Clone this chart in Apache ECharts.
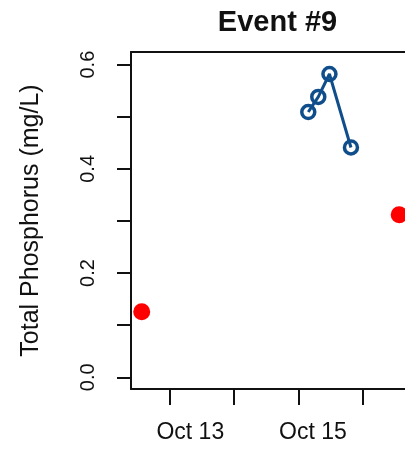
<!DOCTYPE html>
<html>
<head>
<meta charset="utf-8">
<script src="https://cdn.jsdelivr.net/npm/echarts@6/dist/echarts.min.js"></script>
<style>html,body{margin:0;padding:0;background:#fff}#c{width:405px;height:451px}</style>
</head>
<body>
<div id="c"></div>
<script>
// x values are days of October (fractional), y values are Total Phosphorus in mg/L
const redX = [12.573, 16.56];
const redY = [0.126, 0.312];
const blueX = [15.152, 15.307, 15.480, 15.813];
const blueY = [0.509, 0.538, 0.582, 0.441];
const xTickDays = [13, 14, 15, 16];
const xLabelDays = [13, 15];
const xLabelText = ['Oct 13', 'Oct 15'];
const yTicks = [0, 0.1, 0.2, 0.3, 0.4, 0.5, 0.6];
const yLabels = [0, 0.2, 0.4, 0.6];
const titleText = 'Event #9';
const yTitle = 'Total Phosphorus (mg/L)';

const FONT = '"Liberation Sans", Arial, sans-serif';
const INK = '#111';
const X_MIN = 12.407, X_MAX = 16.65;

const chart = echarts.init(document.getElementById('c'), null, {renderer: 'canvas'});
chart.setOption({
  animation: false,
  backgroundColor: '#fff',
  title: {
    text: titleText,
    left: 272.5,
    top: 3,
    textAlign: 'center',
    textStyle: {fontFamily: FONT, fontWeight: 'bold', fontSize: 29, color: INK}
  },
  grid: {show: false, left: 131, top: 52, right: 0, bottom: 62},
  xAxis: [{
    type: 'value', min: X_MIN, max: X_MAX, position: 'bottom',
    splitLine: {show: false},
    axisLine: {show: true, onZero: false, lineStyle: {color: INK, width: 2}},
    axisTick: {show: true, customValues: xTickDays, length: 16, inside: false,
      lineStyle: {color: INK, width: 2}},
    axisLabel: {
      customValues: xLabelDays, margin: 32, fontFamily: FONT, fontSize: 23, color: INK,
      formatter: function (v) {
        const i = xLabelDays.indexOf(Math.round(v));
        return i === 0 ? '{a|' + xLabelText[0] + '}' : '{b|' + xLabelText[1] + '}';
      },
      rich: {
        a: {fontFamily: FONT, fontSize: 23, color: INK, padding: [0, 0, 0, 42]},
        b: {fontFamily: FONT, fontSize: 23, color: INK, padding: [0, 0, 0, 29]}
      }
    }
  }, {
    type: 'value', min: X_MIN, max: X_MAX, position: 'top',
    splitLine: {show: false},
    axisLine: {show: true, onZero: false, lineStyle: {color: INK, width: 2}},
    axisTick: {show: false},
    axisLabel: {show: false}
  }],
  yAxis: {
    type: 'value', min: -0.0224, max: 0.6242,
    splitLine: {show: false},
    axisLine: {show: true, onZero: false, lineStyle: {color: INK, width: 2}},
    axisTick: {show: true, customValues: yTicks, length: 14, inside: false,
      lineStyle: {color: INK, width: 2}},
    axisLabel: {
      customValues: yLabels, rotate: 90, margin: 33, fontFamily: FONT, fontSize: 20, color: INK,
      formatter: function (v) { return v.toFixed(1); }
    },
    name: yTitle, nameLocation: 'middle', nameRotate: 90, nameGap: 87,
    nameTextStyle: {fontFamily: FONT, fontSize: 25, color: INK}
  },
  series: [
    {
      type: 'scatter',
      data: redX.map((x, i) => [x, redY[i]]),
      symbol: 'circle', symbolSize: 17,
      itemStyle: {color: '#ff0000', opacity: 1},
      clip: false
    },
    {
      type: 'line',
      data: blueX.map((x, i) => [x, blueY[i]]),
      symbol: 'circle', symbolSize: 13,
      showSymbol: true,
      lineStyle: {color: '#104E8B', width: 3},
      itemStyle: {color: 'rgba(255,255,255,0)', borderColor: '#104E8B', borderWidth: 3.5},
      clip: false
    }
  ]
});
</script>
</body>
</html>
